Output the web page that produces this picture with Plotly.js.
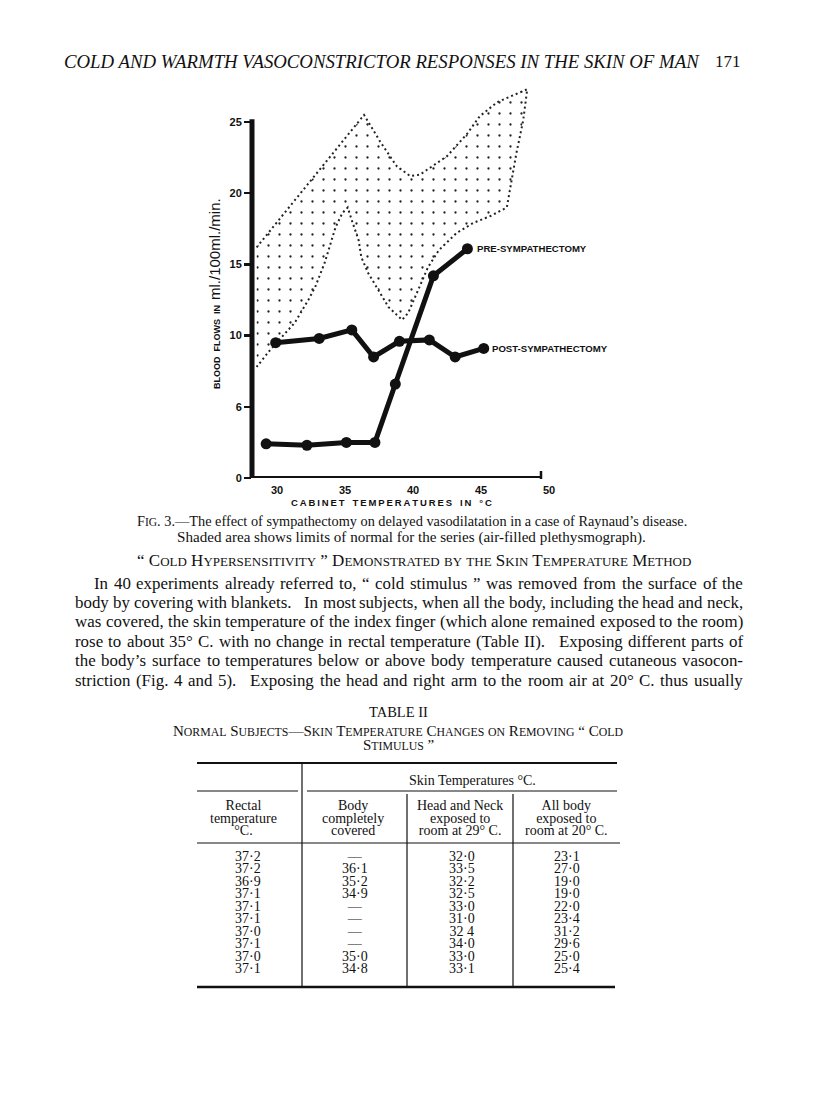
<!DOCTYPE html>
<html>
<head>
<meta charset="utf-8">
<script src="https://cdn.plot.ly/plotly-3.0.1.min.js"></script>
<style>
  html, body { margin: 0; padding: 0; background: #fff; }
  #page { width: 816px; height: 1114px; }
</style>
</head>
<body>
<div id="page"></div>
<script>
// Fig. 3 - blood flow against cabinet temperature
var preTemp = [29.2, 32.2, 35.1, 37.2, 38.7, 41.5, 44.0];
var preFlow = [2.4, 2.3, 2.5, 2.5, 6.6, 14.2, 16.1];

var postTemp = [29.9, 33.1, 35.5, 37.1, 39.0, 41.2, 43.1, 45.2];
var postFlow = [9.5, 9.8, 10.4, 8.5, 9.6, 9.7, 8.5, 9.1];

// outline of the shaded "limits of normal" area, going round clockwise
var normTemp = [28.5, 36.4, 37.6, 38.8, 39.8, 40.5, 42.5, 44.0, 44.9, 46.2, 48.4, 48.1, 47.6, 46.9,
  45.7, 44.4, 43.2, 41.9, 41.1, 40.4, 39.65, 39.2, 38.2, 37.45, 36.7, 36.2, 36.0, 35.5, 35.2,
  34.8, 34.3, 33.5, 32.8, 32.3, 31.3, 29.5, 28.5];
var normFlow = [16.2, 25.5, 23.6, 21.9, 21.2, 21.3, 22.6, 24.2, 25.4, 26.4, 27.3, 25.1, 22.8, 19.0,
  18.4, 17.9, 17.2, 16.0, 14.8, 13.2, 11.6, 11.1, 12.0, 13.2, 14.4, 15.5, 16.7, 18.1, 19.0,
  18.6, 17.6, 15.1, 13.4, 12.5, 10.9, 9.0, 7.8];

var xTicks = [30, 35, 40, 45, 50];
var yTicks = [0, 5, 10, 15, 20, 25];
var yTickText = ['0', '6', '10', '15', '20', '25'];

// Table II
var rectal   = ['37·2', '37·2', '36·9', '37·1', '37·1', '37·1', '37·0', '37·1', '37·0', '37·1'];
var covered  = ['—', '36·1', '35·2', '34·9', '—', '—', '—', '—', '35·0', '34·8'];
var headNeck = ['32·0', '33·5', '32·2', '32·5', '33·0', '31·0', '32 4', '34·0', '33·0', '33·1'];
var allBody  = ['23·1', '27·0', '19·0', '19·0', '22·0', '23·4', '31·2', '29·6', '25·0', '25·4'];
var colHeads = [
  ['Rectal', 'temperature', '°C.'],
  ['Body', 'completely', 'covered'],
  ['Head and Neck', 'exposed to', 'room at 29° C.'],
  ['All body', 'exposed to', 'room at 20° C.']
];

var bodyLines = [
  'In 40 experiments already referred to, “ cold stimulus ” was removed from the surface of the',
  'body by covering with blankets.   In most subjects, when all the body, including the head and neck,',
  'was covered, the skin temperature of the index finger (which alone remained exposed to the room)',
  'rose to about 35° C. with no change in rectal temperature (Table II).   Exposing different parts of',
  'the body’s surface to temperatures below or above body temperature caused cutaneous vasocon-',
  'striction (Fig. 4 and 5).   Exposing the head and right arm to the room air at 20° C. thus usually'
];

// plot area in page pixels, used to place page text in paper coords
var L = 252, T = 86, W = 297, H = 392;
function px(x) { return (x - L) / W; }
function py(y) { return (T + H - y) / H; }

function smallCaps(str, small) {
  return str.replace(/[a-z]+/g, function (m) {
    return '<span style="font-size:' + small + 'px">' + m.toUpperCase() + '</span>';
  });
}

// several lines in one text, with glyphs bigger than the line pitch (tight leading)
function tight(lines, size) {
  return lines.map(function (s) {
    return '<span style="font-size:' + size + 'px">' + s + '</span>';
  }).join('<br>');
}

function spaced(s) { return s.split('').join('\u2009'); }

var serif = 'Liberation Serif, Times New Roman, serif';
var sans = 'Liberation Sans, Arial, sans-serif';
var ink = '#111';

function note(text, x, y, opts) {
  var a = {
    text: text, x: px(x), y: py(y), xref: 'paper', yref: 'paper',
    showarrow: false, xanchor: 'center', yanchor: 'middle',
    font: {family: serif, size: 13, color: ink}
  };
  for (var k in opts) a[k] = opts[k];
  return a;
}

var data = [
  {
    x: normTemp, y: normFlow, mode: 'lines', fill: 'toself',
    line: {color: '#222', width: 2, dash: '2px,3px'},
    fillcolor: 'rgba(0,0,0,0)',
    fillpattern: {shape: '.', size: 11, solidity: 0.035, fgcolor: '#222', bgcolor: 'rgba(0,0,0,0)'},
    hoverinfo: 'skip', showlegend: false
  },
  {
    x: preTemp, y: preFlow, mode: 'lines+markers', name: 'Pre-sympathectomy',
    line: {color: ink, width: 5}, marker: {color: ink, size: 11}, showlegend: false
  },
  {
    x: postTemp, y: postFlow, mode: 'lines+markers', name: 'Post-sympathectomy',
    line: {color: ink, width: 5}, marker: {color: ink, size: 11}, showlegend: false
  }
];

var ann = [];
// labels at the end of each curve
ann.push({x: preTemp[preTemp.length - 1], y: preFlow[preFlow.length - 1], xref: 'x', yref: 'y',
  text: 'PRE-SYMPATHECTOMY', showarrow: false, xanchor: 'left', xshift: 8,
  font: {family: sans, size: 9.6, weight: 700, color: ink}});
ann.push({x: postTemp[postTemp.length - 1], y: postFlow[postFlow.length - 1], xref: 'x', yref: 'y',
  text: 'POST-SYMPATHECTOMY', showarrow: false, xanchor: 'left', xshift: 6,
  font: {family: sans, size: 9.6, weight: 700, color: ink}});

// axis titles
ann.push(note(spaced('CABINET') + '   ' + spaced('TEMPERATURES') + '   ' + spaced('IN') + '   ' + spaced('°C'), 391, 502,
  {font: {family: sans, size: 9.5, weight: 700, color: ink}}));
ann.push(note('<b>BLOOD  FLOWS  IN</b>  <span style="font-size:15px">ml./100ml./min.</span>', 214, 294,
  {textangle: -90, font: {family: sans, size: 9, color: ink}}));

// running head
ann.push(note('COLD AND WARMTH VASOCONSTRICTOR RESPONSES IN THE SKIN OF MAN', 62, 62,
  {xanchor: 'left', font: {family: serif, size: 18.8, style: 'italic', color: ink}}));
ann.push(note('171', 713, 61, {xanchor: 'left', font: {family: serif, size: 17, color: ink}}));

// caption
ann.push(note(smallCaps('Fig. 3.', 11.5) + '—The effect of sympathectomy on delayed vasodilatation in a case of Raynaud’s disease.',
  135, 521, {xanchor: 'left', font: {family: serif, size: 14.3, color: ink}}));
ann.push(note('Shaded area shows limits of normal for the series (air-filled plethysmograph).', 411, 537,
  {font: {family: serif, size: 15.1, color: ink}}));

// section heading
ann.push(note(smallCaps('“ Cold Hypersensitivity ” Demonstrated by the Skin Temperature Method', 13),
  414, 560, {font: {family: serif, size: 17, color: ink}}));

// justified paragraph: each word placed on its own, gaps stretched to fill the measure
var bodySize = 16.9;
var ctx = document.createElement('canvas').getContext('2d');
ctx.font = bodySize + 'px "Liberation Serif"';
var spaceW = ctx.measureText(' ').width;
bodyLines.forEach(function (s, i) {
  var left = i === 0 ? 93 : 74, right = 742;
  var words = [], weights = [], pending = 1;
  s.split(' ').forEach(function (tok) {
    if (tok === '') { pending += 1; return; }
    if (words.length) weights.push(pending);
    pending = 1;
    words.push(tok);
  });
  var widths = words.map(function (w) { return ctx.measureText(w).width; });
  var used = widths.reduce(function (a, b) { return a + b; }, 0);
  var wsum = weights.reduce(function (a, b) { return a + b; }, 0);
  var extra = (right - left - used - wsum * spaceW) / weights.length;
  var x = left;
  words.forEach(function (w, k) {
    ann.push(note(w, x - 1, 583 + i * 19.4, {xanchor: 'left', font: {family: serif, size: bodySize, color: ink}}));
    if (k < weights.length) x += widths[k] + weights[k] * spaceW + extra;
  });
});

// table title
ann.push(note('TABLE II', 398, 712, {font: {family: serif, size: 14.5, color: ink}}));
ann.push(note(smallCaps('Normal Subjects—Skin Temperature Changes on Removing “ Cold', 11.8), 398, 731,
  {font: {family: serif, size: 15, color: ink}}));
ann.push(note(smallCaps('Stimulus ”', 11.8), 398, 745, {font: {family: serif, size: 15, color: ink}}));

// table header
ann.push(note('Skin Temperatures °C.', 472, 780, {font: {family: serif, size: 14, color: ink}}));
var colX = [243, 353, 460, 566];
colHeads.forEach(function (lines, c) {
  ann.push(note(tight(lines, 14), colX[c], 818, {font: {family: serif, size: 9.8, color: ink}}));
});

// table body, one text per column
var cols = [rectal, covered, headNeck, allBody];
var valX = [248, 355, 462, 567];
cols.forEach(function (col, c) {
  ann.push(note(tight(col, 14), valX[c], 912, {font: {family: serif, size: 9.6, color: ink}}));
});

function rule(x0, y0, x1, y1, w) {
  return {type: 'line', xref: 'paper', yref: 'paper', x0: px(x0), y0: py(y0), x1: px(x1), y1: py(y1),
    line: {color: ink, width: w}};
}

var shapes = [
  // y axis line up to 25 and x axis line
  {type: 'line', xref: 'paper', yref: 'y', x0: 0, x1: 0, y0: 0, y1: 25.2, line: {color: ink, width: 5}},
  {type: 'line', xref: 'paper', yref: 'y', x0: px(250), x1: px(542), y0: 0, y1: 0, line: {color: ink, width: 4}},
  {type: 'line', xref: 'paper', yref: 'paper', x0: px(541), x1: px(541), y0: py(479), y1: py(471), line: {color: ink, width: 2.5}},
  // table rules
  rule(197, 763, 617, 763, 2),
  rule(302, 763, 302, 986, 1.2),
  rule(197, 791, 298, 791, 1),
  rule(307, 791, 617, 791, 1),
  rule(407, 794, 407, 986, 1.2),
  rule(513, 794, 513, 986, 1.2),
  rule(197, 843, 620, 843, 1.2),
  rule(197, 987, 615, 987, 2.5)
];

var layout = {
  width: 816, height: 1114,
  margin: {l: L, r: 816 - L - W, t: T, b: 1114 - T - H},
  paper_bgcolor: '#fff', plot_bgcolor: '#fff',
  showlegend: false,
  xaxis: {
    range: [28.16, 50], tickvals: xTicks, ticks: '', showline: false,
    showgrid: false, zeroline: false, ticklabelstandoff: 4,
    tickfont: {family: sans, size: 11, weight: 700, color: ink}
  },
  yaxis: {
    range: [0, 27.53], tickvals: yTicks, ticktext: yTickText,
    ticks: 'outside', ticklen: 7, tickwidth: 2.5, tickcolor: ink,
    showline: false, showgrid: false, zeroline: false,
    tickfont: {family: sans, size: 11, weight: 700, color: ink}
  },
  annotations: ann,
  shapes: shapes
};

Plotly.newPlot('page', data, layout, {staticPlot: true});
</script>
</body>
</html>
